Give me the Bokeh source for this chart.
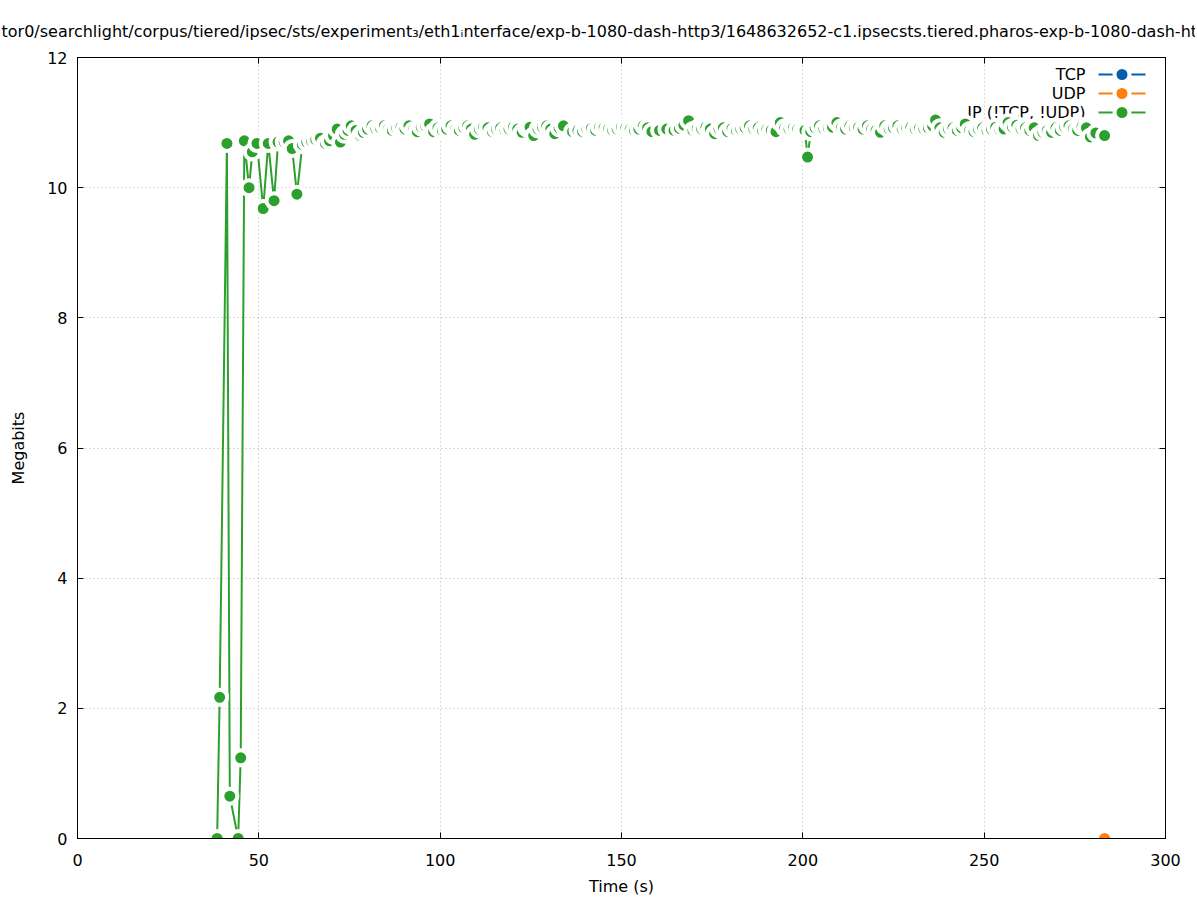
from bokeh.plotting import figure
from bokeh.models import Range1d, LinearAxis, FixedTicker
from bokeh.embed import file_html
from bokeh.resources import INLINE
from bokeh.core.properties import value

# ---------------- data ----------------
title_text = ("tor0/searchlight/corpus/tiered/ipsec/sts/experiment\u2083/eth1\u1d62nterface/"
              "exp-b-1080-dash-http3/1648632652-c1.ipsecsts.tiered.pharos-exp-b-1080-dash-http3")

x_ticks = [0, 50, 100, 150, 200, 250, 300]
y_ticks = [0, 2, 4, 6, 8, 10, 12]

series_names = ["TCP", "UDP", "IP (!TCP, !UDP)"]
series_colors = ["#0060ad", "#ff7f0e", "#2ca02c"]

tcp_t = []
tcp_v = []

udp_t = [283.2]
udp_v = [0.0]

ip_t = [38.5, 39.2, 41.2, 42.0, 44.3, 45.0, 46.0, 47.3, 48.2, 49.5,
        51.2, 52.6, 54.2, 55.3, 57.0, 58.2, 59.2, 60.5, 62.0, 63.2,
        64.5, 65.7, 67.0, 68.4, 69.5, 70.6, 71.6, 72.5, 73.6, 74.6,
        75.5, 76.8, 78.0, 78.8, 80.0, 81.2, 82.3, 83.5, 84.6, 85.7,
        86.8, 88.0, 89.2, 90.3, 91.4, 92.6, 93.7, 94.8, 96.0, 97.1,
        98.2, 99.4, 100.6, 101.8, 103.0, 104.2, 105.3, 106.5, 107.6, 108.6,
        109.5, 110.8, 112.0, 113.2, 114.4, 115.5, 116.7, 117.9, 119.0, 120.2,
        121.4, 122.6, 123.8, 124.8, 125.8, 127.0, 128.2, 129.4, 130.5, 131.6,
        132.8, 134.0, 136.5, 138.0, 139.3, 140.5, 141.7, 142.9, 144.0, 145.2,
        146.4, 147.6, 148.8, 150.0, 151.2, 152.4, 153.6, 154.8, 156.0, 157.2,
        158.4, 160.5, 162.5, 164.5, 166.0, 167.2, 168.5, 169.7, 170.9, 172.1,
        173.3, 174.5, 175.7, 176.9, 178.1, 179.3, 180.5, 181.7, 182.9, 184.1,
        185.3, 186.5, 187.7, 188.9, 190.1, 191.3, 192.6, 193.8, 195.0, 196.2,
        197.4, 198.6, 199.8, 200.6, 201.3, 202.2, 203.4, 204.6, 205.8, 207.0,
        208.2, 209.4, 210.6, 211.8, 213.0, 214.2, 215.4, 216.6, 217.8, 219.0,
        220.2, 221.4, 222.6, 223.8, 225.0, 226.2, 227.4, 228.6, 229.8, 231.0,
        232.2, 233.4, 234.6, 235.8, 236.6, 237.8, 239.0, 240.2, 241.4, 242.6,
        243.8, 244.8, 246.0, 247.2, 248.4, 249.6, 250.8, 252.0, 253.2, 254.4,
        255.5, 256.6, 257.8, 259.0, 260.2, 261.4, 262.6, 263.8, 265.0, 266.2,
        267.4, 268.6, 269.8, 271.0, 272.2, 273.4, 274.6, 275.8, 277.0, 278.2,
        279.3, 280.8, 283.2]

ip_v = [0.00, 2.17, 10.68, 0.65, 0.00, 1.24, 10.72, 10.00, 10.55, 10.68,
        9.68, 10.68, 9.80, 10.70, 10.70, 10.72, 10.60, 9.90, 10.66, 10.70,
        10.72, 10.74, 10.76, 10.68, 10.72, 10.80, 10.90, 10.70, 10.82, 10.88,
        10.95, 10.88, 10.80, 10.85, 10.90, 10.95, 10.90, 10.92, 10.95, 10.90,
        10.88, 10.92, 10.93, 10.90, 10.95, 10.88, 10.86, 10.93, 10.95, 10.98,
        10.86, 10.92, 10.88, 10.90, 10.95, 10.90, 10.88, 10.92, 10.95, 10.90,
        10.82, 10.90, 10.93, 10.92, 10.86, 10.90, 10.92, 10.88, 10.90, 10.93,
        10.90, 10.85, 10.92, 10.93, 10.80, 10.90, 10.93, 10.95, 10.90, 10.83,
        10.92, 10.95, 10.86, 10.88, 10.86, 10.90, 10.91, 10.88, 10.93, 10.92,
        10.90, 10.88, 10.90, 10.93, 10.92, 10.90, 10.88, 10.90, 10.95, 10.92,
        10.86, 10.88, 10.90, 10.88, 10.91, 10.96, 11.03, 10.88, 10.91, 10.90,
        10.93, 10.90, 10.83, 10.90, 10.92, 10.86, 10.91, 10.88, 10.90, 10.92,
        10.95, 10.90, 10.92, 10.88, 10.90, 10.88, 10.86, 11.00, 10.92, 10.90,
        10.92, 10.90, 10.88, 10.88, 10.47, 10.86, 10.92, 10.95, 10.90, 10.92,
        10.93, 11.00, 10.92, 10.90, 10.95, 10.92, 10.93, 10.90, 10.95, 10.90,
        10.88, 10.85, 10.95, 10.90, 10.92, 10.95, 10.90, 10.92, 10.93, 10.90,
        10.92, 10.90, 10.92, 10.95, 11.04, 10.92, 10.85, 10.90, 10.92, 10.88,
        10.92, 10.98, 10.88, 10.86, 10.90, 10.92, 10.88, 10.90, 10.93, 10.88,
        10.90, 11.00, 10.93, 10.96, 10.90, 10.92, 10.88, 10.92, 10.80, 10.85,
        10.88, 10.85, 10.92, 10.88, 10.93, 10.95, 10.90, 10.88, 10.94, 10.92,
        10.78, 10.84, 10.80]

FONT = "DejaVu Sans"
FRAME_W, FRAME_H = 1088, 781

p = figure(frame_width=FRAME_W, frame_height=FRAME_H,
           min_border_left=77, min_border_right=30, min_border_top=57, min_border_bottom=60,
           x_range=Range1d(0, 300), y_range=Range1d(0, 12),
           output_backend="svg", toolbar_location=None,
           x_axis_label="Time (s)", y_axis_label="Megabits")

p.background_fill_color = "white"
p.border_fill_color = "white"
p.outline_line_color = "black"
p.outline_line_width = 1
p.outline_line_alpha = 1

# title
p.title.text = title_text
p.title.align = "left"
p.title.offset = -76
p.title.standoff = 34
p.title.text_font = FONT
p.title.text_font_size = "16px"
p.title.text_font_style = "normal"
p.title.text_color = "black"

for ax in (p.xaxis[0], p.yaxis[0]):
    ax.axis_line_color = "black"
    ax.major_tick_in = 6
    ax.major_tick_out = 0
    ax.minor_tick_in = 0
    ax.minor_tick_out = 0
    ax.major_tick_line_color = "black"
    ax.major_label_text_font = FONT
    ax.major_label_text_font_size = "16px"
    ax.major_label_text_color = "black"
    ax.axis_label_text_font = FONT
    ax.axis_label_text_font_size = "16px"
    ax.axis_label_text_font_style = "normal"
    ax.axis_label_text_color = "black"

p.xaxis[0].ticker = FixedTicker(ticks=x_ticks)
p.yaxis[0].ticker = FixedTicker(ticks=y_ticks)
p.xaxis[0].major_label_standoff = 15
p.xaxis[0].axis_label_standoff = 8
p.yaxis[0].major_label_standoff = 10
p.yaxis[0].axis_label_standoff = 16

# mirror axes (ticks only)
top = LinearAxis(ticker=FixedTicker(ticks=x_ticks),
                 major_label_overrides={t: "" for t in x_ticks})
right = LinearAxis(ticker=FixedTicker(ticks=y_ticks),
                   major_label_overrides={t: "" for t in y_ticks})
for ax in (top, right):
    ax.axis_line_color = "black"
    ax.major_tick_in = 6
    ax.major_tick_out = 0
    ax.minor_tick_in = 0
    ax.minor_tick_out = 0
    ax.major_label_standoff = 0
    ax.major_label_text_font_size = "10px"
p.add_layout(top, "above")
p.add_layout(right, "right")

# grid
for g in (p.xgrid[0], p.ygrid[0]):
    g.grid_line_color = "#b4b4b4"
    g.grid_line_dash = "1 3"
    g.grid_line_width = 1
p.xgrid[0].ticker = FixedTicker(ticks=x_ticks)
p.ygrid[0].ticker = FixedTicker(ticks=y_ticks)

# key (gnuplot style: text then sample), in frame pixel coordinates
p.extra_x_ranges = {"px": Range1d(0, FRAME_W)}
p.extra_y_ranges = {"px": Range1d(0, FRAME_H)}
key_y = [764, 745, 726]
key_text_x = 1008
key_x0, key_x1 = 1021, 1068
for name, col, ky in zip(series_names, series_colors, key_y):
    p.text(x=[key_text_x], y=[ky], text=[name], text_align="right", text_baseline="middle",
           text_font=value(FONT), text_font_size="16px", text_color="black",
           x_range_name="px", y_range_name="px")
    p.segment(x0=[key_x0], y0=[ky], x1=[key_x1], y1=[ky], line_color=col, line_width=2,
              x_range_name="px", y_range_name="px")
    p.scatter(x=[(key_x0 + key_x1) / 2], y=[ky], size=15, fill_color=col, line_color="white",
              line_width=4, x_range_name="px", y_range_name="px")

# data
for tt, vv, col in ((tcp_t, tcp_v, series_colors[0]), (udp_t, udp_v, series_colors[1]),
                    (ip_t, ip_v, series_colors[2])):
    p.line(tt, vv, line_color=col, line_width=2)
    p.scatter(tt, vv, size=15, fill_color=col, line_color="white", line_width=4)

open("out.html", "w").write(file_html(p, INLINE))
